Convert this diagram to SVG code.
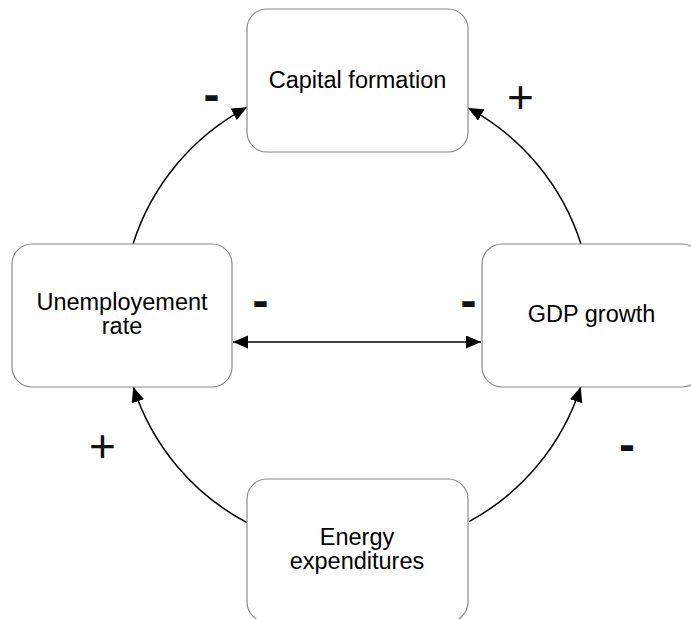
<svg xmlns="http://www.w3.org/2000/svg" width="691" height="619" viewBox="0 0 691 619">
<style>
.box{fill:#ffffff;stroke:#8a8a8a;stroke-width:1.2}
.lbl{font-family:"Liberation Sans",Arial,sans-serif;font-size:23.5px;fill:#000;text-anchor:middle}
.edge{fill:none;stroke:#000;stroke-width:1.5}
.minus{font-family:"Liberation Sans",Arial,sans-serif;font-size:48px;font-weight:bold;fill:#111;text-anchor:middle}
.plus{font-family:"Liberation Sans",Arial,sans-serif;font-size:46px;fill:#111;text-anchor:middle}
</style>
<defs>
<marker id="ah" markerUnits="userSpaceOnUse" markerWidth="16" markerHeight="14" refX="15" refY="6.5" orient="auto">
<path d="M0,0 L15,6.5 L0,13 z" fill="#000"/>
</marker>
<marker id="ahs" markerUnits="userSpaceOnUse" markerWidth="16" markerHeight="14" refX="15" refY="6.5" orient="auto-start-reverse">
<path d="M0,0 L15,6.5 L0,13 z" fill="#000"/>
</marker>
</defs>
<g id="connectors">
<path class="edge" d="M133,244 A235,235 0 0 1 247,107.3" marker-end="url(#ah)"/>
<path class="edge" d="M581,244 A235,235 0 0 0 468,107.9" marker-end="url(#ah)"/>
<path class="edge" d="M247,522.7 A235,235 0 0 1 133.3,387" marker-end="url(#ah)"/>
<path class="edge" d="M469,521.6 A235,235 0 0 0 580.7,387" marker-end="url(#ah)"/>
<path class="edge" d="M233,342 L481,342" marker-start="url(#ahs)" marker-end="url(#ahs)"/>
</g>
<g id="capital">
<rect class="box" x="247" y="9" width="221" height="143" rx="20" ry="20"/>
<text class="lbl" x="357.5" y="88">Capital formation</text>
</g>
<g id="unemployment">
<rect class="box" x="12" y="244" width="220" height="143" rx="20" ry="20"/>
<text class="lbl" x="122" y="310">Unemployement</text>
<text class="lbl" x="122" y="334">rate</text>
</g>
<g id="gdp">
<rect class="box" x="482" y="244" width="220" height="143" rx="20" ry="20"/>
<text class="lbl" x="591.5" y="322">GDP growth</text>
</g>
<g id="energy">
<rect class="box" x="247" y="479" width="221" height="143" rx="20" ry="20"/>
<text class="lbl" x="357" y="545">Energy</text>
<text class="lbl" x="357" y="569">expenditures</text>
</g>
<g id="signs">
<text class="minus" x="211.5" y="110.5">-</text>
<text class="plus" x="520.5" y="113">+</text>
<text class="minus" x="260.5" y="317">-</text>
<text class="minus" x="468.5" y="317">-</text>
<text class="plus" x="102.5" y="462">+</text>
<text class="minus" x="627" y="460.5">-</text>
</g>
</svg>
